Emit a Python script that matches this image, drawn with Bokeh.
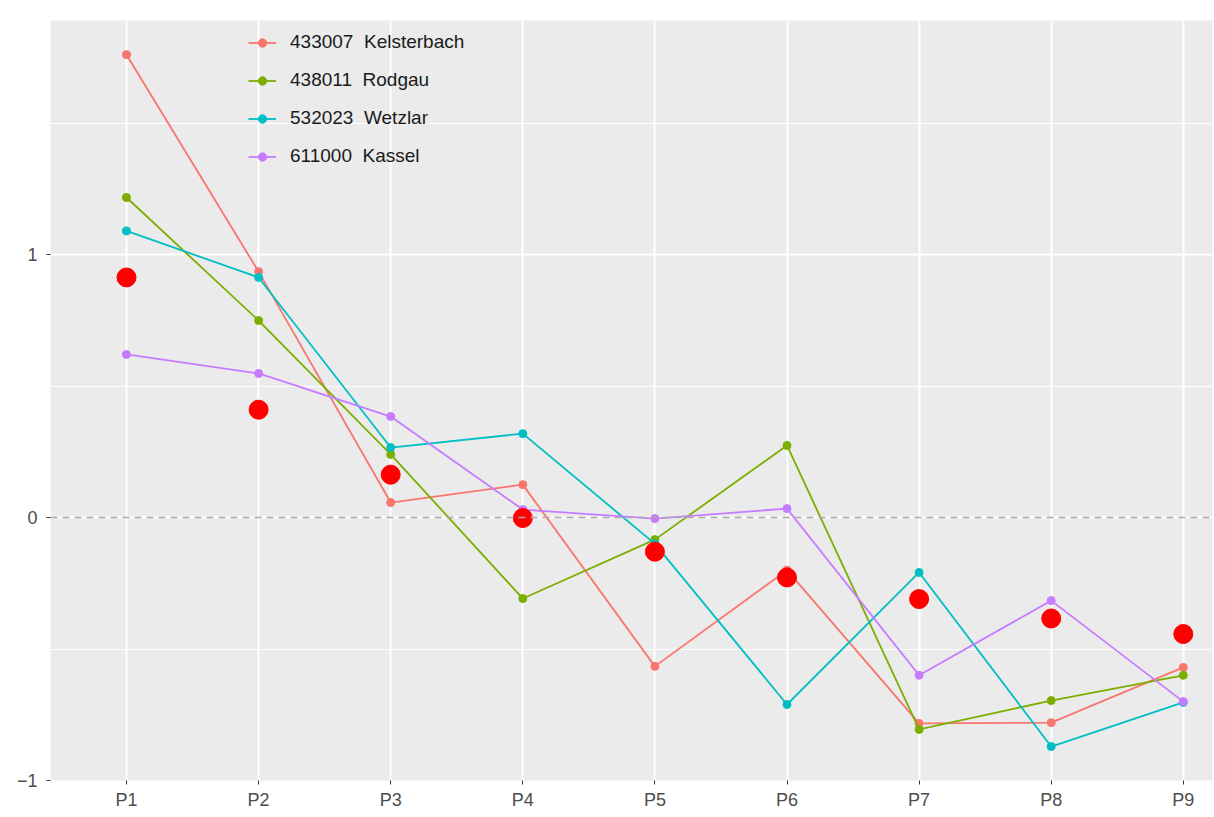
from bokeh.plotting import figure
from bokeh.models import FixedTicker, Span, Range1d, Legend
from bokeh.embed import file_html
from bokeh.resources import INLINE

categories = ["P1", "P2", "P3", "P4", "P5", "P6", "P7", "P8", "P9"]
series_names = ["433007  Kelsterbach", "438011  Rodgau", "532023  Wetzlar", "611000  Kassel"]
kelsterbach = [1.76, 0.935, 0.057, 0.125, -0.566, -0.20, -0.783, -0.78, -0.57]
rodgau = [1.217, 0.749, 0.24, -0.308, -0.084, 0.274, -0.806, -0.696, -0.60]
wetzlar = [1.09, 0.913, 0.266, 0.319, -0.10, -0.711, -0.209, -0.871, -0.703]
kassel = [0.62, 0.548, 0.384, 0.03, -0.004, 0.034, -0.60, -0.316, -0.70]
mean_values = [0.913, 0.41, 0.163, -0.002, -0.13, -0.228, -0.31, -0.384, -0.443]
colors = ["#F8766D", "#7CAE00", "#00BFC4", "#C77CFF"]
y_ticks = [-1, 0, 1]
y_minor = [-0.5, 0.5, 1.5]

xs = list(range(1, len(categories) + 1))
FONT = "Liberation Sans"

p = figure(width=1214, height=817, output_backend="svg", toolbar_location=None,
           x_range=Range1d(0.4247, 9.221), y_range=Range1d(-1.0, 1.89),
           min_border_left=50, min_border_top=20, min_border_right=2, min_border_bottom=37)
p.background_fill_color = "#EBEBEB"
p.border_fill_color = "white"
p.outline_line_color = None

# axes
p.xaxis.ticker = FixedTicker(ticks=xs)
p.xaxis.major_label_overrides = {x: c for x, c in zip(xs, categories)}
p.yaxis.ticker = FixedTicker(ticks=y_ticks, minor_ticks=y_minor)
p.yaxis.major_label_overrides = {t: (str(t).replace("-", "\u2212")) for t in y_ticks}
for ax in (p.xaxis, p.yaxis):
    ax.axis_line_color = None
    ax.major_tick_line_color = "#333333"
    ax.major_tick_out = 4
    ax.major_tick_in = 0
    ax.minor_tick_line_color = None
    ax.major_label_text_color = "#4D4D4D"
    ax.major_label_text_font = FONT
    ax.major_label_text_font_size = "18px"
p.xaxis.major_label_standoff = 5
p.yaxis.major_label_standoff = 9

# grid
p.xgrid.ticker = FixedTicker(ticks=xs)
p.ygrid.ticker = FixedTicker(ticks=y_ticks, minor_ticks=y_minor)
p.grid.grid_line_color = "white"
p.grid.grid_line_width = 2
p.ygrid.minor_grid_line_color = "white"
p.ygrid.minor_grid_line_width = 1

p.add_layout(Span(location=0, dimension="width", line_color="#A8A8A8",
                  line_width=1.5, line_dash="7 5"))

items = []
for name, vals, col in zip(series_names, [kelsterbach, rodgau, wetzlar, kassel], colors):
    l = p.line(xs, vals, line_color=col, line_width=1.8)
    s = p.scatter(xs, vals, size=8, fill_color=col, line_color=col)
    items.append((name, [l, s]))

p.scatter(xs, mean_values, size=19, fill_color="#FF0000", line_color="#FF0000")

legend = Legend(items=items, location=(198, 613), orientation="vertical")
legend.background_fill_alpha = 0
legend.border_line_color = None
legend.padding = 0
legend.margin = 0
legend.spacing = 16
legend.glyph_width = 28
legend.glyph_height = 21
legend.label_height = 21
legend.label_standoff = 14
legend.label_text_font = FONT
legend.label_text_font_size = "19px"
legend.label_text_color = "#1A1A1A"
p.add_layout(legend)

open("out.html", "w").write(file_html(p, INLINE))
